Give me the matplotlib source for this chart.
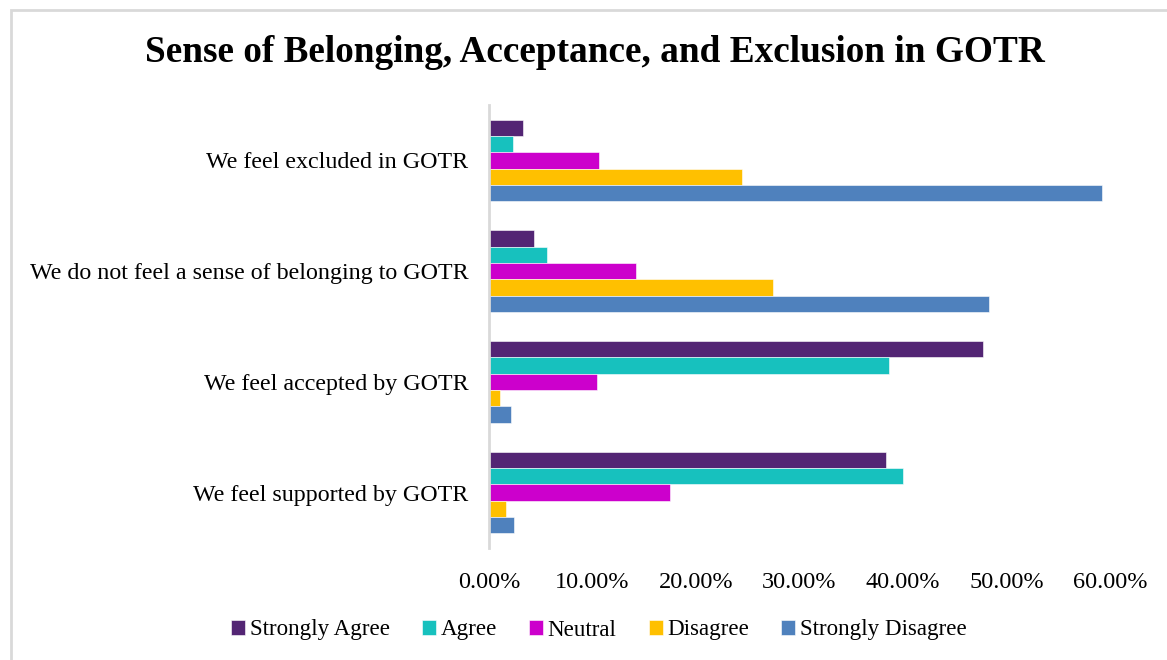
import matplotlib
matplotlib.use("Agg")
import matplotlib.pyplot as plt
from matplotlib.patches import Rectangle
from matplotlib.ticker import FuncFormatter
import numpy as np

categories = ["We feel supported by GOTR", "We feel accepted by GOTR",
              "We do not feel a sense of belonging to GOTR", "We feel excluded in GOTR"]
series_names = ["Strongly Agree", "Agree", "Neutral", "Disagree", "Strongly Disagree"]
strongly_agree = [0.384, 0.477, 0.0436, 0.0326]
agree = [0.400, 0.386, 0.0563, 0.0233]
neutral = [0.175, 0.104, 0.1417, 0.1066]
disagree = [0.016, 0.0106, 0.2745, 0.2445]
strongly_disagree = [0.0245, 0.021, 0.4827, 0.592]
colors = ["#532574", "#17C1BE", "#CC00CC", "#FFC000", "#4F81BD"]
xticks = [0, 0.1, 0.2, 0.3, 0.4, 0.5, 0.6]

plt.rcParams['font.family'] = ['Liberation Serif', 'DejaVu Serif']

fig = plt.figure(figsize=(11.67, 6.6), dpi=100)
# outer border
fig.patches.append(Rectangle((11/1167, -0.1), 1.2, 1 - 10/660 + 0.1, transform=fig.transFigure,
                             fill=False, edgecolor="#D9D9D9", linewidth=2))

ax = fig.add_axes([489/1167, 1 - 548/660, (1110 - 489)/1167, (548 - 105)/660])
data = [strongly_agree, agree, neutral, disagree, strongly_disagree]
y = np.arange(len(categories))
h = 0.147
for i, (name, vals, c) in enumerate(zip(series_names, data, colors)):
    off = (2 - i) * h
    ax.barh(y + off, vals, height=h, color=c, label=name, edgecolor="white", linewidth=0.4)

ax.set_ylim(-0.5, 3.5)
ax.set_xlim(0, 0.6)
ax.set_yticks(y)
ax.set_yticklabels(categories, fontsize=17.3)
ax.set_xticks(xticks)
ax.xaxis.set_major_formatter(FuncFormatter(lambda v, p: f"{v*100:.2f}%"))
ax.tick_params(axis='x', labelsize=17.5, length=0, pad=17)
ax.tick_params(axis='y', length=0, pad=15)
for s in ["top", "right", "bottom"]:
    ax.spines[s].set_visible(False)
ax.spines["left"].set_color("#D9D9D9")
ax.spines["left"].set_linewidth(2)

fig.text(595/1167, 1 - 53/660, "Sense of Belonging, Acceptance, and Exclusion in GOTR",
         ha="center", va="center", fontsize=26.8, fontweight="bold")

handles, labels = ax.get_legend_handles_labels()
fig.legend(handles, labels, loc="center", bbox_to_anchor=(599/1167, 1 - 630/660), ncol=5,
           frameon=False, fontsize=16.6, handlelength=0.6, handleheight=0.6,
           handletextpad=0.2, columnspacing=1.4)

fig.savefig("out.png", dpi=100)
